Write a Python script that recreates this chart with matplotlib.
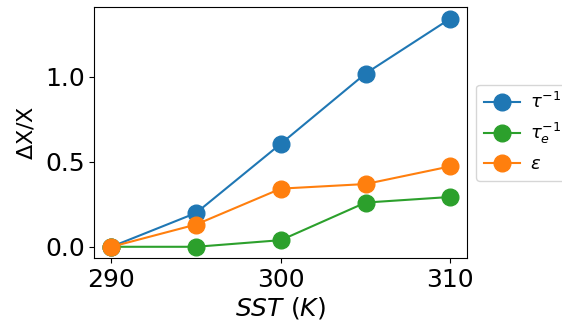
import numpy as np
import matplotlib
matplotlib.use("Agg")
import matplotlib.pyplot as plt

# Relative change with sea surface temperature
sst = [290, 295, 300, 305, 310]
tau_inv = [0.0, 0.199, 0.606, 1.019, 1.342]
tau_e_inv = [0.0, 0.0, 0.039, 0.260, 0.293]
eps = [0.0, 0.131, 0.342, 0.369, 0.473]

fig, ax = plt.subplots(figsize=(5.62, 3.26), dpi=100)
fig.subplots_adjust(left=0.168, right=0.8315, top=0.978, bottom=0.208)

ax.plot(sst, tau_inv, '-o', color='tab:blue', markersize=12, lw=1.5, label=r'$\tau^{-1}$')
ax.plot(sst, tau_e_inv, '-o', color='tab:green', markersize=12, lw=1.5, label=r'$\tau_e^{-1}$')
ax.plot(sst, eps, '-o', color='tab:orange', markersize=12, lw=1.5, label=r'$\epsilon$')

ax.set_xticks([290, 300, 310])
ax.set_yticks([0.0, 0.5, 1.0])
ax.tick_params(labelsize=18)
ax.set_xlabel(r'$SST\ (K)$', fontsize=18, labelpad=2)
ax.set_ylabel(r'$\Delta$X/X', fontsize=16, labelpad=6)

ax.legend(loc='center left', bbox_to_anchor=(1.0, 0.5), fontsize=13,
          handletextpad=0.6, borderaxespad=0.5)

plt.savefig('out.png', dpi=100)
